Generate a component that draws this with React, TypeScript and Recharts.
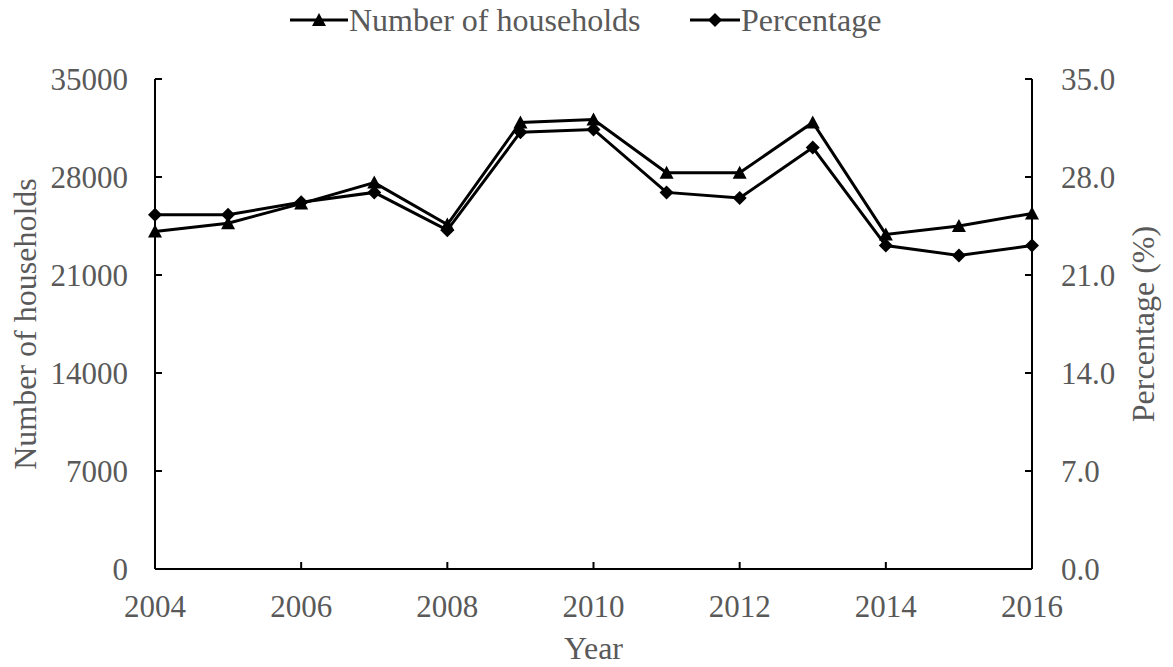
import { LineChart, Line, XAxis, YAxis, Legend } from "recharts";

const YEARS = [2004, 2005, 2006, 2007, 2008, 2009, 2010, 2011, 2012, 2013, 2014, 2015, 2016];
const HOUSEHOLDS = [24100, 24700, 26100, 27600, 24600, 31900, 32100, 28300, 28300, 31900, 23900, 24500, 25400];
const PERCENTAGE = [25.3, 25.3, 26.2, 26.9, 24.2, 31.2, 31.4, 26.9, 26.5, 30.1, 23.1, 22.4, 23.1];
const YEAR_TICKS = [2004, 2006, 2008, 2010, 2012, 2014, 2016];
const LEFT_TICKS = [0, 7000, 14000, 21000, 28000, 35000];
const RIGHT_TICKS = [0, 7, 14, 21, 28, 35];

const data = YEARS.map((year, i) => ({
    year,
    households: HOUSEHOLDS[i],
    percentage: PERCENTAGE[i],
}));

const FONT = "'Liberation Serif', 'Times New Roman', serif";
const TEXT = "#595959";

const Triangle = (props: any) => {
    const { cx, cy, key } = props;
    if (cx == null || cy == null) return null;
    return <polygon key={key} points={`${cx - 7},${cy + 6} ${cx + 7},${cy + 6} ${cx},${cy - 7}`} fill="#000" />;
};

const Diamond = (props: any) => {
    const { cx, cy, key } = props;
    if (cx == null || cy == null) return null;
    return <polygon key={key} points={`${cx},${cy - 7} ${cx + 7},${cy} ${cx},${cy + 7} ${cx - 7},${cy}`} fill="#000" />;
};

function LegendContent() {
    const item = (label: string, marker: "tri" | "dia", lineLen: number, width: number) => {
        const m = lineLen / 2;
        return (
            <div style={{ display: "flex", alignItems: "center", width }}>
                <svg width={lineLen} height={40}>
                    <line x1={0} y1={20} x2={lineLen} y2={20} stroke="#000" strokeWidth={3} />
                    {marker === "tri" ? (
                        <polygon points={`${m - 7},26 ${m + 7},26 ${m},13`} fill="#000" />
                    ) : (
                        <polygon points={`${m},13 ${m + 7},20 ${m},27 ${m - 7},20`} fill="#000" />
                    )}
                </svg>
                <span style={{ fontFamily: FONT, fontSize: 32, color: TEXT, lineHeight: "40px", marginLeft: 1 }}>{label}</span>
            </div>
        );
    };
    return (
        <div style={{ display: "flex", height: 40 }}>
            {item("Number of households", "tri", 58, 400)}
            {item("Percentage", "dia", 50, 220)}
        </div>
    );
}

export default function App() {
    const tickStyle = { fontFamily: FONT, fontSize: 31, fill: TEXT };
    const labelStyle = { fontFamily: FONT, fontSize: 32, fill: TEXT, textAnchor: "middle" as const };

    return (
        <div style={{ position: "absolute", left: 0, top: 0, width: 1173, height: 667, background: "#fff" }}>
            <LineChart width={1173} height={667} data={data} margin={{ top: 79, right: 0, bottom: 0, left: 0 }}>
                <XAxis
                    dataKey="year"
                    type="number"
                    domain={[2004, 2016]}
                    ticks={YEAR_TICKS}
                    height={98}
                    stroke="#000"
                    strokeWidth={2}
                    tickSize={-7}
                    tickMargin={33}
                    tick={tickStyle}
                    label={{ value: "Year", position: "insideBottom", offset: 8, style: labelStyle }}
                />
                <YAxis
                    yAxisId="left"
                    domain={[0, 35000]}
                    ticks={LEFT_TICKS}
                    width={155}
                    stroke="#000"
                    strokeWidth={2}
                    tickSize={-7}
                    tickMargin={34}
                    tick={tickStyle}
                    label={{ value: "Number of households", angle: -90, position: "insideLeft", offset: 25, style: labelStyle }}
                />
                <YAxis
                    yAxisId="right"
                    orientation="right"
                    domain={[0, 35]}
                    ticks={RIGHT_TICKS}
                    tickFormatter={(v: number) => v.toFixed(1)}
                    width={141}
                    stroke="#000"
                    strokeWidth={2}
                    tickSize={-7}
                    tickMargin={36}
                    tick={tickStyle}
                    label={{ value: "Percentage (%)", angle: -90, position: "insideRight", offset: 30, style: labelStyle }}
                />
                <Legend
                    verticalAlign="middle"
                    align="center"
                    content={<LegendContent />}
                    wrapperStyle={{ top: 0, left: 290, width: 700, height: 40 }}
                />
                <Line
                    yAxisId="left"
                    dataKey="households"
                    name="Number of households"
                    stroke="#000"
                    strokeWidth={3}
                    dot={Triangle}
                    activeDot={false}
                    isAnimationActive={false}
                />
                <Line
                    yAxisId="right"
                    dataKey="percentage"
                    name="Percentage"
                    stroke="#000"
                    strokeWidth={3}
                    dot={Diamond}
                    activeDot={false}
                    isAnimationActive={false}
                />
            </LineChart>
        </div>
    );
}
